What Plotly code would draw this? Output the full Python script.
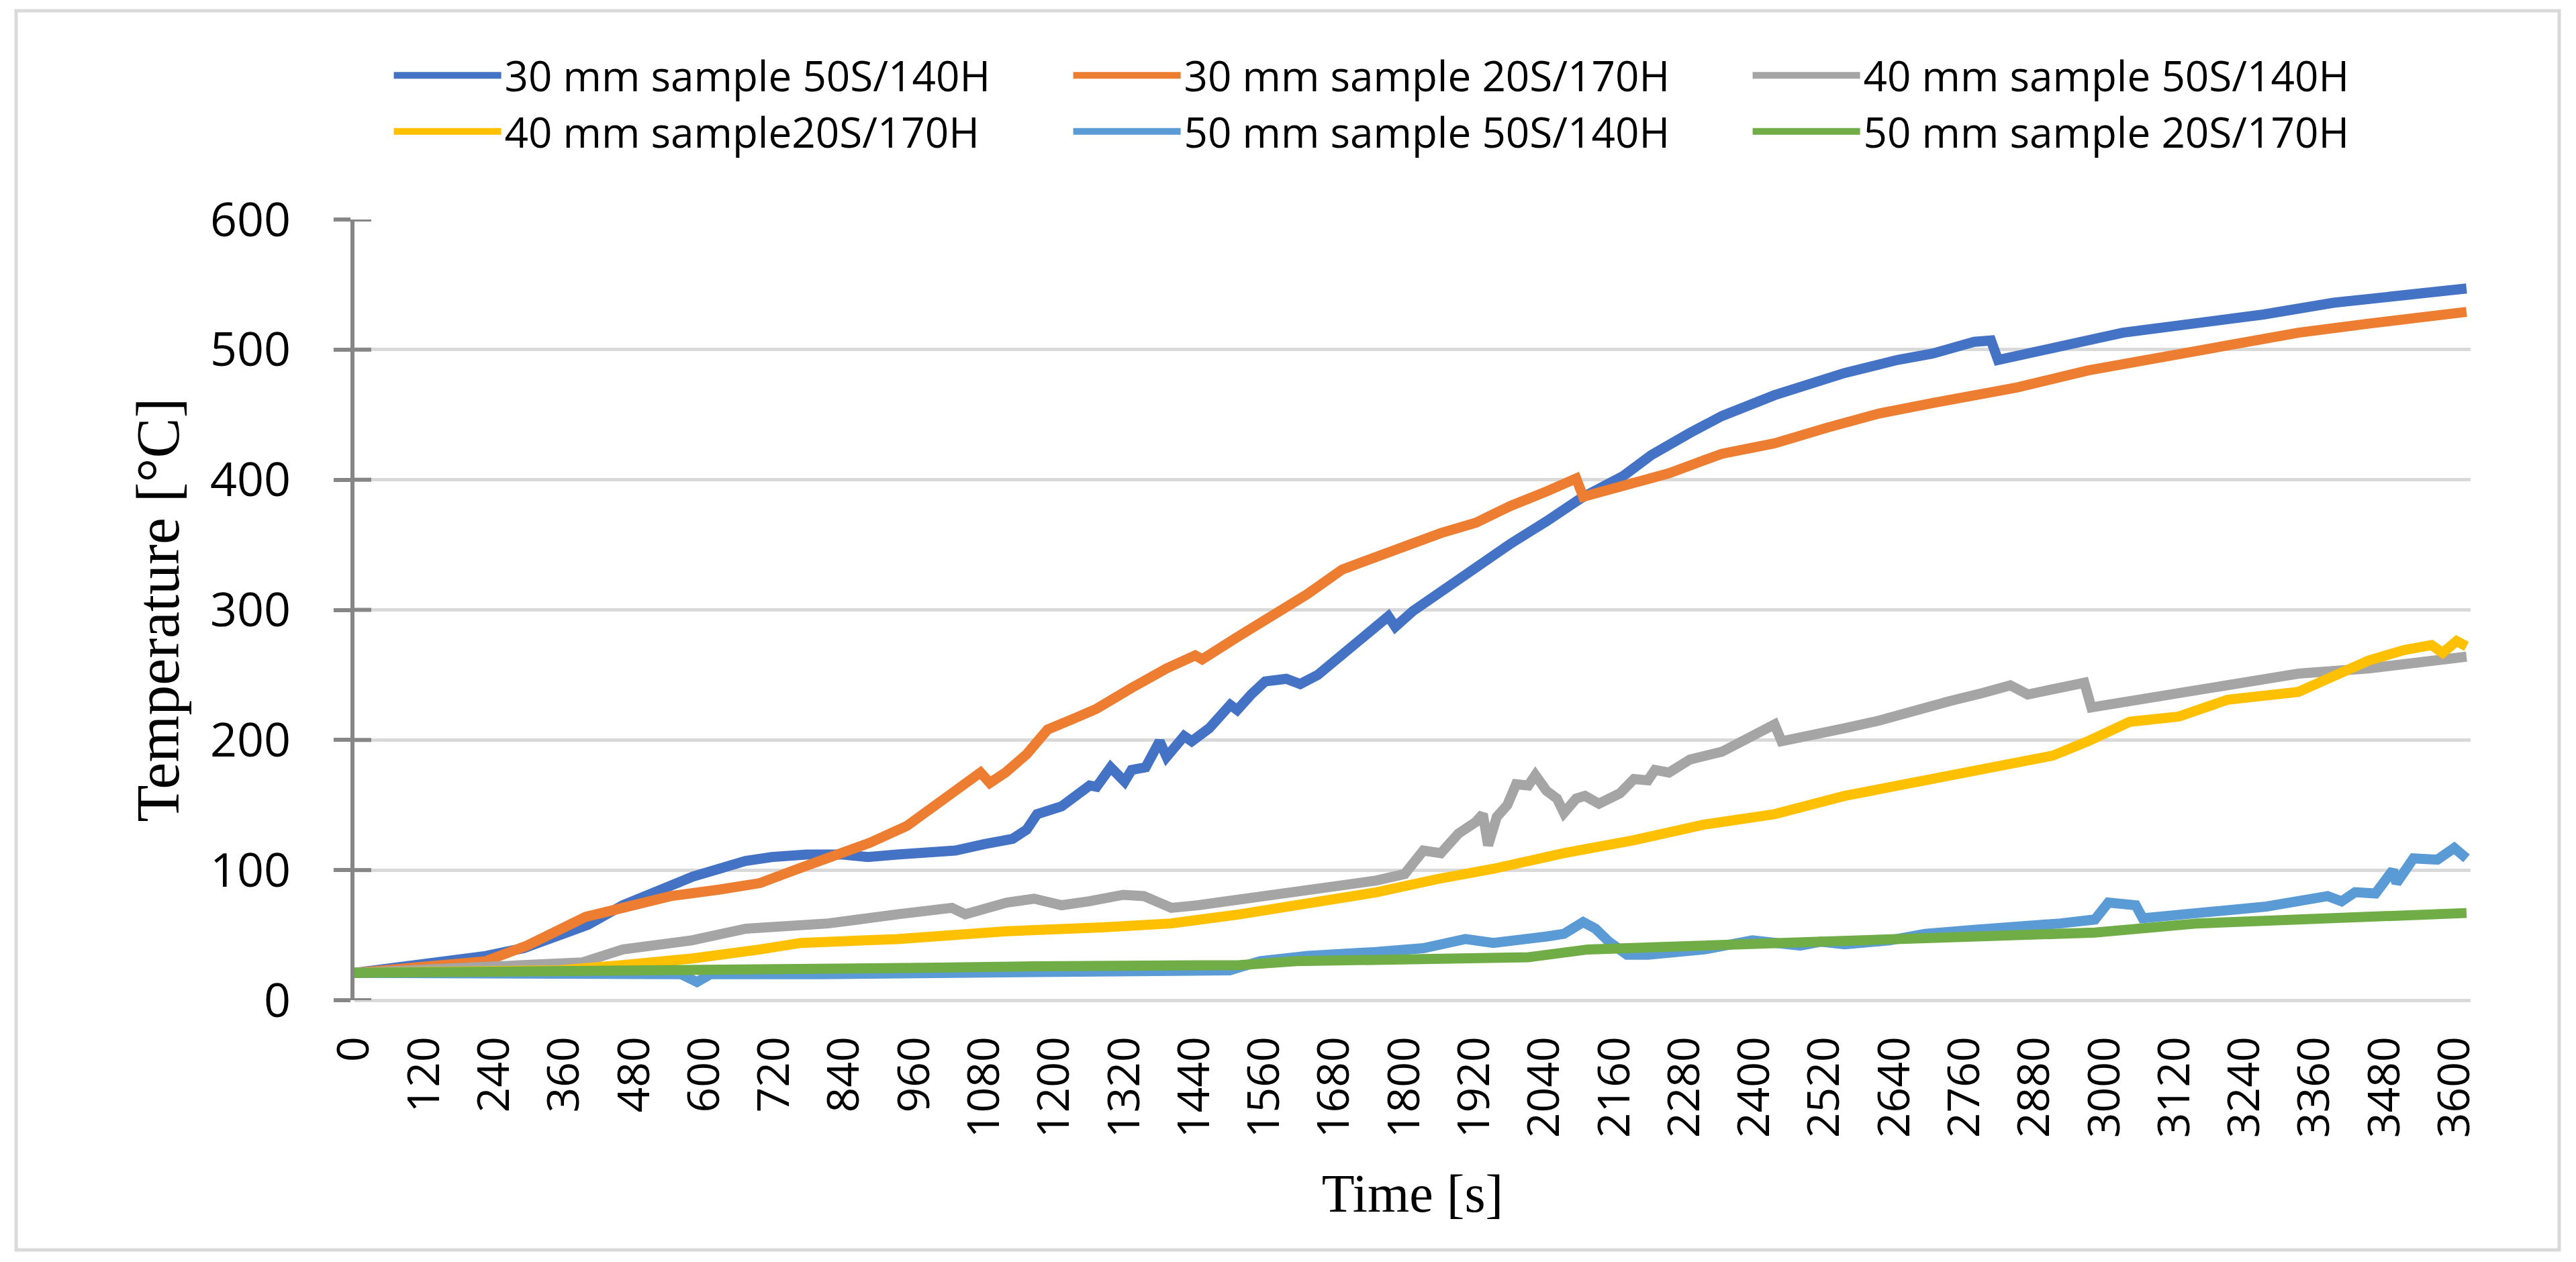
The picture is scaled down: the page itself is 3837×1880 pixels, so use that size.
import plotly.graph_objects as go

# ---------------- data ----------------
names = ["30 mm sample 50S/140H", "30 mm sample 20S/170H", "40 mm sample 50S/140H",
         "40 mm sample20S/170H", "50 mm sample 50S/140H", "50 mm sample 20S/170H"]
colors = ["#4472C4", "#ED7D31", "#A5A5A5", "#FFC000", "#5B9BD5", "#70AD47"]

t1 = [0, 60, 110, 170, 225, 290, 345, 400, 460, 530, 580, 625, 670, 715, 775, 835, 880, 930, 980,
      1030, 1080, 1128, 1152, 1170, 1212, 1260, 1272, 1296, 1320, 1332, 1356, 1380, 1392, 1422, 1435,
      1465, 1501, 1513, 1537, 1561, 1597, 1621, 1651, 1693, 1729, 1772, 1784, 1814, 1855, 1916, 1982,
      2043, 2103, 2175, 2223, 2289, 2344, 2434, 2554, 2644, 2705, 2776, 2805, 2817, 2911, 3031, 3151,
      3272, 3392, 3512, 3620]
T1 = [21, 24, 28, 31, 34, 40, 48, 58, 73, 86, 95, 101, 107, 110, 112, 112, 110, 112, 113,
      115, 120, 124, 131, 143, 149, 165, 164, 179, 168, 177, 179, 199, 187, 203, 199,
      209, 227, 223, 235, 245, 247, 243, 250, 267, 279, 295, 287, 299, 312, 331, 351,
      368, 386, 403, 419, 436, 449, 465, 482, 492, 497, 506, 507, 492, 501, 513, 520,
      527, 536, 542, 547]

t2 = [0, 60, 110, 170, 225, 296, 366, 396, 460, 542, 625, 695, 754, 813, 883, 947, 989, 1031, 1073,
      1089, 1116, 1152, 1188, 1236, 1272, 1332, 1392, 1441, 1453, 1513, 1573, 1633, 1693, 1753, 1796,
      1862, 1922, 1982, 2043, 2094, 2106, 2169, 2253, 2344, 2434, 2524, 2614, 2705, 2850, 2971, 3091,
      3211, 3332, 3452, 3620]
T2 = [21, 23, 25, 27, 30, 42, 56, 64, 71, 80, 85, 90, 100, 109, 121, 134, 147, 161, 175,
      167, 175, 189, 208, 217, 224, 240, 255, 265, 262, 279, 295, 312, 331, 341, 348,
      359, 367, 380, 391, 401, 387, 394, 405, 420, 428, 440, 451, 459, 471, 484, 493,
      502, 513, 520, 529]

t3 = [0, 100, 200, 300, 390, 460, 578, 671, 720, 812, 930, 1024, 1047, 1118, 1165, 1212, 1259, 1318,
      1353, 1400, 1446, 1517, 1587, 1658, 1752, 1800, 1832, 1862, 1892, 1922, 1934, 1943, 1958, 1976,
      1991, 2012, 2024, 2043, 2061, 2073, 2094, 2109, 2133, 2169, 2193, 2217, 2229, 2253, 2289, 2344,
      2404, 2434, 2446, 2494, 2554, 2614, 2675, 2735, 2790, 2838, 2868, 2911, 2965, 2977, 3091, 3211,
      3332, 3452, 3620]
T3 = [21, 23, 25, 26, 29, 39, 46, 55, 56, 59, 66, 71, 66, 75, 78, 73, 76, 81,
      80, 71, 73, 77, 82, 85, 92, 97, 115, 113, 128, 137, 143, 119, 141, 150,
      166, 165, 173, 161, 155, 144, 155, 157, 151, 159, 170, 169, 177, 175, 185, 191,
      205, 212, 199, 203, 209, 215, 223, 230, 236, 242, 235, 239, 244, 225, 233, 243,
      251, 255, 264]

t4 = [0, 200, 350, 460, 578, 695, 765, 930, 1118, 1282, 1400, 1517, 1634, 1752, 1855, 1952, 2073,
      2193, 2313, 2434, 2554, 2675, 2776, 2820, 2911, 2971, 3043, 3127, 3211, 3332, 3392, 3452, 3512,
      3560, 3579, 3603, 3620]
T4 = [21, 22, 23, 27, 32, 39, 44, 47, 53, 56, 59, 66, 75, 83, 93, 101, 113,
      123, 135, 143, 157, 167, 176, 179, 188, 199, 214, 218, 231, 237, 249, 261, 269,
      273, 267, 276, 272]

t5 = [0, 200, 400, 560, 587, 610, 800, 1000, 1200, 1400, 1500, 1552, 1634, 1750, 1832, 1904, 1952,
      2044, 2073, 2106, 2127, 2150, 2181, 2217, 2313, 2396, 2434, 2478, 2513, 2554, 2631, 2692, 2776,
      2866, 2924, 2983, 3006, 3053, 3065, 3159, 3277, 3382, 3406, 3429, 3464, 3494, 3500, 3529, 3570,
      3599, 3620]
T5 = [21, 21, 20, 20, 14, 20, 20, 21, 21, 22, 23, 30, 34, 37, 40, 47, 44,
      49, 51, 60, 55, 45, 35, 35, 39, 46, 45, 42, 45, 43, 46, 51, 54,
      56, 59, 62, 75, 73, 63, 67, 72, 80, 76, 83, 82, 100, 90, 109, 108,
      117, 109]

t6 = [0, 400, 742, 1000, 1165, 1400, 1517, 1615, 1831, 2012, 2114, 2396, 2631, 2983, 3159, 3453, 3620]
T6 = [21, 22, 24, 25, 26, 26, 27, 30, 31, 33, 39, 43, 47, 52, 59, 64, 67]

y_ticks = [0, 100, 200, 300, 400, 500, 600]

series_t = [t1, t2, t3, t4, t5, t6]
series_T = [T1, T2, T3, T4, T5, T6]

# ---------------- figure ----------------
W, H = 3837, 1880
ML, MR, MT, MB = 528, 157, 327, 390
plot_w = W - ML - MR

fig = go.Figure()
for name, col, tx, ty in zip(names, colors, series_t, series_T):
    fig.add_trace(go.Scatter(x=tx, y=ty, mode="lines", name=name,
                             line=dict(color=col, width=15)))

# inner half of the "cross" tick marks on the value axis
shapes = []
for v in y_ticks:
    shapes.append(dict(type="line", xref="paper", yref="y", x0=0, x1=25 / plot_w, y0=v, y1=v,
                       line=dict(color="#868686", width=6), layer="above"))
# chart border
shapes.append(dict(type="rect", xref="paper", yref="paper",
                   x0=(24 - ML) / plot_w, x1=(3812 - ML) / plot_w,
                   y0=-(1862 - (H - MB)) / (H - MT - MB), y1=1 + (MT - 16) / (H - MT - MB),
                   line=dict(color="#D9D9D9", width=5), fillcolor="rgba(0,0,0,0)", layer="below"))

fig.update_layout(
    width=W, height=H,
    margin=dict(l=ML, r=MR, t=MT, b=MB, autoexpand=False),
    paper_bgcolor="white", plot_bgcolor="white",
    font=dict(family="Open Sans", color="black"),
    shapes=shapes,
    legend=dict(orientation="h", x=0.017, y=1.225, xanchor="left", yanchor="top",
                font=dict(family="Open Sans", size=62, color="black"),
                entrywidth=837, entrywidthmode="pixels", itemwidth=160,
                bgcolor="rgba(0,0,0,0)", tracegroupgap=0),
    xaxis=dict(range=[0, 3627], tick0=0, dtick=120, tickangle=-90,
               showgrid=False, zeroline=False, showline=False, ticks="",
               ticklabelstandoff=40,
               tickfont=dict(family="Open Sans", size=66, color="black"),
               title=dict(text="Time [s]", standoff=54,
                          font=dict(family="Liberation Serif", size=80, color="black"))),
    yaxis=dict(range=[0, 600], tickvals=y_ticks,
               showgrid=True, gridcolor="#D9D9D9", gridwidth=5,
               zeroline=True, zerolinecolor="#D9D9D9", zerolinewidth=5,
               showline=True, linecolor="#868686", linewidth=6,
               ticks="outside", ticklen=25, tickwidth=6, tickcolor="#868686",
               ticklabelstandoff=50,
               tickfont=dict(family="Open Sans", size=70, color="black"),
               title=dict(text="Temperature [°C]", standoff=18,
                          font=dict(family="Liberation Serif", size=90, color="black"))),
)

fig.write_html("out.html", config={"displayModeBar": False},
               post_script="document.body.style.margin='0';")
